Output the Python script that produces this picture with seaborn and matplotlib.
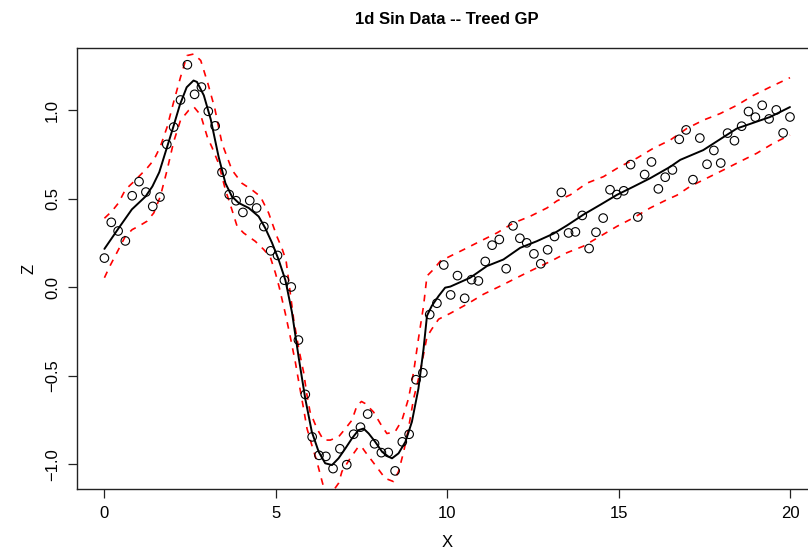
import matplotlib
matplotlib.use("Agg")
import matplotlib.pyplot as plt
import seaborn as sns
import pandas as pd

# ---- observed data ----
x_obs = [0.00, 0.20, 0.40, 0.61, 0.81, 1.01, 1.21, 1.41, 1.62, 1.82,
         2.02, 2.22, 2.42, 2.63, 2.83, 3.03, 3.23, 3.43, 3.64, 3.84,
         4.04, 4.24, 4.44, 4.65, 4.85, 5.05, 5.25, 5.45, 5.66, 5.86,
         6.06, 6.26, 6.46, 6.67, 6.87, 7.07, 7.27, 7.47, 7.68, 7.88,
         8.08, 8.28, 8.48, 8.69, 8.89, 9.09, 9.29, 9.49, 9.70, 9.90,
         10.10, 10.30, 10.51, 10.71, 10.91, 11.11, 11.31, 11.52, 11.72, 11.92,
         12.12, 12.32, 12.53, 12.73, 12.93, 13.13, 13.33, 13.54, 13.74, 13.94,
         14.14, 14.34, 14.55, 14.75, 14.95, 15.15, 15.35, 15.56, 15.76, 15.96,
         16.16, 16.36, 16.57, 16.77, 16.97, 17.17, 17.37, 17.58, 17.78, 17.98,
         18.18, 18.38, 18.59, 18.79, 18.99, 19.19, 19.39, 19.60, 19.80, 20.00]
z_obs = [0.165, 0.367, 0.318, 0.262, 0.517, 0.597, 0.538, 0.457, 0.510, 0.807,
         0.905, 1.058, 1.257, 1.090, 1.131, 0.994, 0.912, 0.650, 0.524, 0.489,
         0.423, 0.490, 0.448, 0.343, 0.206, 0.180, 0.040, 0.002, -0.298, -0.605,
         -0.845, -0.949, -0.955, -1.024, -0.912, -1.002, -0.830, -0.790, -0.716, -0.884,
         -0.934, -0.933, -1.037, -0.873, -0.830, -0.522, -0.483, -0.154, -0.090, 0.126,
         -0.043, 0.066, -0.062, 0.043, 0.036, 0.146, 0.238, 0.270, 0.105, 0.347,
         0.277, 0.251, 0.189, 0.133, 0.212, 0.287, 0.536, 0.307, 0.313, 0.406,
         0.219, 0.311, 0.391, 0.551, 0.524, 0.545, 0.693, 0.397, 0.637, 0.708,
         0.556, 0.622, 0.663, 0.836, 0.889, 0.608, 0.843, 0.695, 0.773, 0.702,
         0.871, 0.828, 0.910, 0.993, 0.961, 1.028, 0.951, 1.002, 0.872, 0.962]

# ---- predictive mean ----
x_mean = [0.0, 0.4, 0.8, 1.2, 1.4, 1.6, 1.8, 2.0, 2.2, 2.4, 2.6, 2.7, 2.9, 3.1,
          3.33, 3.53, 3.72, 3.92, 4.21, 4.5, 4.69, 4.89, 5.08, 5.28, 5.47, 5.67,
          5.86, 6.05, 6.25, 6.44, 6.64, 6.83, 7.03, 7.22, 7.41, 7.56, 7.71, 7.90,
          8.10, 8.29, 8.39, 8.58, 8.78, 8.97, 9.16, 9.31, 9.41, 9.55, 9.75, 9.94,
          10.09, 10.67, 11.16, 11.64, 12.13, 12.61, 13.10, 13.5, 13.97, 14.5,
          14.95, 15.45, 15.92, 16.5, 16.8, 17.47, 18.45, 19.42, 20.0]
z_mean = [0.217, 0.33, 0.44, 0.513, 0.57, 0.65, 0.775, 0.90, 1.03, 1.13, 1.168, 1.16, 1.084, 0.95,
          0.738, 0.588, 0.513, 0.476, 0.448, 0.40, 0.335, 0.251, 0.157, 0.04, -0.14, -0.40,
          -0.63, -0.816, -0.929, -0.994, -1.004, -0.966, -0.91, -0.854, -0.807, -0.798, -0.826, -0.873,
          -0.929, -0.957, -0.966, -0.938, -0.873, -0.76, -0.573, -0.348, -0.161, -0.105, -0.049, -0.002,
          0.004, 0.054, 0.12, 0.157, 0.223, 0.26, 0.303, 0.35, 0.41, 0.47,
          0.522, 0.57, 0.616, 0.68, 0.72, 0.775, 0.897, 0.962, 1.018]

# ---- upper quantile ----
x_upper = [0.0, 0.22, 0.41, 0.61, 0.81, 1.0, 1.24, 1.44, 1.63, 1.83, 2.02, 2.22, 2.41, 2.61,
           2.81, 3.02, 3.22, 3.43, 3.72, 4.01, 4.3, 4.55, 4.79, 5.03, 5.18, 5.3, 5.42,
           5.52, 5.67, 5.81, 5.91, 6.0, 6.2, 6.39, 6.59, 6.83, 7.03, 7.22, 7.37, 7.5,
           7.61, 7.85, 8.05, 8.24, 8.48, 8.68, 8.87, 9.02, 9.16, 9.31, 9.41, 9.6, 9.8,
           10.09, 10.48, 10.96, 11.45, 11.93, 12.42, 12.91, 13.2, 13.59, 14.07, 14.56,
           15.04, 15.53, 16.01, 16.5, 16.99, 17.47, 17.96, 18.45, 18.93, 19.42, 20.0]
z_upper = [0.39, 0.43, 0.476, 0.551, 0.588, 0.625, 0.672, 0.719, 0.794, 0.906, 1.047, 1.187, 1.309, 1.318,
           1.281, 1.15, 1.01, 0.813, 0.663, 0.588, 0.551, 0.513, 0.42, 0.288, 0.22, 0.15, -0.03,
           -0.18, -0.348, -0.479, -0.61, -0.704, -0.798, -0.863, -0.863, -0.845, -0.798, -0.751, -0.667, -0.645,
           -0.657, -0.704, -0.77, -0.826, -0.816, -0.751, -0.629, -0.479, -0.292, -0.105, 0.064, 0.101, 0.148,
           0.176, 0.213, 0.26, 0.307, 0.363, 0.401, 0.448, 0.488, 0.522, 0.588, 0.625,
           0.682, 0.729, 0.785, 0.831, 0.897, 0.944, 0.981, 1.028, 1.084, 1.131, 1.184]

# ---- lower quantile ----
x_lower = [0.0, 0.16, 0.41, 0.61, 0.81, 1.0, 1.24, 1.44, 1.63, 1.83, 2.02, 2.22, 2.46, 2.61,
           2.81, 3.0, 3.14, 3.33, 3.53, 3.72, 3.87, 4.06, 4.4, 4.65, 4.84, 4.99, 5.1,
           5.28, 5.42, 5.57, 5.67, 5.81, 5.91, 6.05, 6.2, 6.3, 6.39, 6.6, 6.83, 6.93,
           7.17, 7.41, 7.5, 7.61, 7.9, 8.19, 8.43, 8.58, 8.73, 8.87, 9.02, 9.21, 9.41,
           9.55, 9.75, 10.09, 10.57, 11.06, 11.55, 12.03, 12.52, 13.05, 13.49, 13.97,
           14.46, 14.95, 15.43, 15.92, 16.4, 16.7, 17.08, 17.57, 18.06, 18.54, 19.03,
           19.51, 20.0]
z_lower = [0.054, 0.12, 0.213, 0.288, 0.326, 0.345, 0.373, 0.42, 0.513, 0.663, 0.822, 0.944, 1.0, 1.019,
           0.972, 0.85, 0.79, 0.70, 0.551, 0.438, 0.345, 0.307, 0.26, 0.213, 0.17, 0.08, 0.0,
           -0.15, -0.278, -0.423, -0.535, -0.685, -0.798, -0.891, -0.985, -1.06, -1.125, -1.17, -1.107, -1.04,
           -0.966, -0.90, -0.90, -0.93, -1.004, -1.079, -1.097, -1.041, -0.929, -0.798, -0.629, -0.479, -0.28,
           -0.236, -0.18, -0.147, -0.096, -0.039, 0.007, 0.054, 0.101, 0.15, 0.195, 0.232,
           0.288, 0.344, 0.392, 0.448, 0.494, 0.52, 0.569, 0.616, 0.663, 0.71, 0.757,
           0.813, 0.86]

title = "1d Sin Data -- Treed GP"
x_label = "X"
y_label = "Z"
x_ticks = [0, 5, 10, 15, 20]
y_ticks = [-1.0, -0.5, 0.0, 0.5, 1.0]
y_tick_labels = ["\u22121.0", "\u22120.5", "0.0", "0.5", "1.0"]

sns.set_style("ticks")
plt.rcParams["font.family"] = ["Liberation Sans", "DejaVu Sans"]
plt.rcParams["text.color"] = "black"
plt.rcParams["axes.labelcolor"] = "black"
plt.rcParams["xtick.color"] = "black"
plt.rcParams["ytick.color"] = "black"

W, H = 808, 550
fig = plt.figure(figsize=(W / 100, H / 100), dpi=100)
left_px, right_px, top_px, bot_px = 77, 817.4, 48.3, 489.3
ax = fig.add_axes([left_px / W, 1 - bot_px / H, (right_px - left_px) / W, (bot_px - top_px) / H])

df_obs = pd.DataFrame({"X": x_obs, "Z": z_obs})
df_mean = pd.DataFrame({"X": x_mean, "Z": z_mean})
df_up = pd.DataFrame({"X": x_upper, "Z": z_upper})
df_lo = pd.DataFrame({"X": x_lower, "Z": z_lower})

sns.lineplot(data=df_up, x="X", y="Z", ax=ax, color="#FF0000", lw=1.2,
             linestyle=(0, (4, 4)), estimator=None, sort=False)
sns.lineplot(data=df_lo, x="X", y="Z", ax=ax, color="#FF0000", lw=1.2,
             linestyle=(0, (4, 4)), estimator=None, sort=False)
sns.lineplot(data=df_mean, x="X", y="Z", ax=ax, color="black", lw=1.4,
             estimator=None, sort=False)
sns.scatterplot(data=df_obs, x="X", y="Z", ax=ax, marker="o", s=38,
                facecolor="none", edgecolor="black", linewidth=0.8, zorder=5)

ax.set_xlim(-0.8, 20.8)
ax.set_ylim(-1.141, 1.350)
ax.set_xticks(x_ticks)
ax.set_xticklabels([str(t) for t in x_ticks])
ax.set_yticks(y_ticks)
ax.set_yticklabels(y_tick_labels, rotation=90, va="center")

for s in ax.spines.values():
    s.set_color("#222222")
    s.set_linewidth(1.0)

ax.tick_params(axis="both", direction="out", length=6.3, width=0.9, color="#222222",
               labelcolor="black", labelsize=12, pad=6)
ax.set_xlabel(x_label, fontsize=12, labelpad=10, color="black")
ax.set_ylabel(y_label, fontsize=12, labelpad=6, color="black")
fig.text(447 / W, 1 - 19 / H, title, ha="center", va="center", fontsize=12,
         fontweight="bold", color="black")

fig.savefig("out.png", dpi=100)
